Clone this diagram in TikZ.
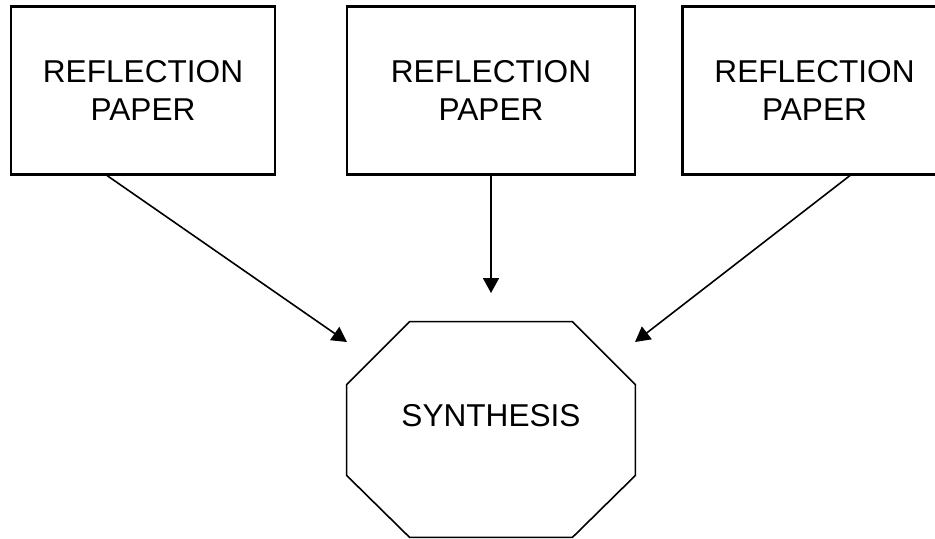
\documentclass[tikz,border=0pt]{standalone}
\usepackage{fontspec}
\setmainfont{Liberation Sans}
\usetikzlibrary{arrows.meta, calc}

\begin{document}
\begin{tikzpicture}[
  x=0.5pt, y=-0.5pt,
  paperbox/.style={rectangle, draw=black, line width=1.1pt, fill=white,
                   minimum width=132pt, minimum height=84pt,
                   align=center, font=\fontsize{15.8}{19.2}\selectfont},
  octhold/.style={rectangle, inner sep=0pt,
                  minimum width=144pt, minimum height=107.5pt},
  octline/.style={draw=black, line width=0.8pt},
  lbl/.style={inner sep=0pt, font=\fontsize{15.8}{19.2}\selectfont},
  arr/.style={-{Triangle[length=7.5pt, width=8pt]}, line width=0.8pt, black}
]
\useasboundingbox (0,0) rectangle (935,538);

\node[paperbox] (paper1) at (143,90.4)   {REFLECTION\\PAPER};
\node[paperbox, minimum width=144pt] (paper2) at (491,90.4) {REFLECTION\\PAPER};
\node[paperbox] (paper3) at (814.5,90.4) {REFLECTION\\PAPER};

% octagon
\node[octhold] (synth) at (491,429.5) {};
\draw[octline] ($(synth.north west)+(63,0)$) -- ($(synth.north east)+(-63,0)$)
  -- ($(synth.north east)+(0,63)$) -- ($(synth.south east)+(0,-62)$)
  -- ($(synth.south east)+(-63,0)$) -- ($(synth.south west)+(63,0)$)
  -- ($(synth.south west)+(0,-62)$) -- ($(synth.north west)+(0,63)$) -- cycle;
\node[lbl] (synthlbl) at (491,416) {SYNTHESIS};

\coordinate (tip1) at (347,342);
\coordinate (tip2) at (491,293);
\coordinate (tip3) at (635,342);

\draw[arr] ($(paper1.south)+(-36,0)$) -- (tip1);
\draw[arr] (paper2.south) -- (tip2);
\draw[arr] ($(paper3.south)+(35.5,0)$) -- (tip3);

\end{tikzpicture}
\end{document}
